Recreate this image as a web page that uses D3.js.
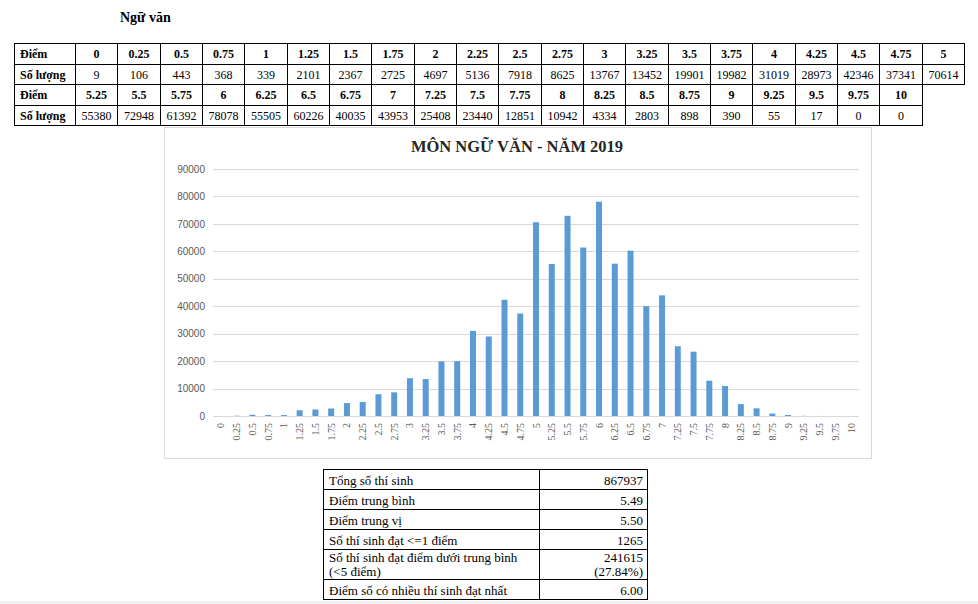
<!DOCTYPE html>
<html>
<head>
<meta charset="utf-8">
<title>Ngữ văn 2019</title>
<script src="https://d3js.org/d3.v7.min.js"></script>
<style>
  body { margin: 0; background: #fff; }
  text { font-family: "Liberation Serif", "Times New Roman", serif; }
  .ylab { font-family: "Liberation Sans", Arial, sans-serif; font-size: 10px; fill: #595959; }
  .xlab { font-size: 10px; fill: #595959; }
</style>
</head>
<body>
<script>
// data
var scores = [0, 0.25, 0.5, 0.75, 1, 1.25, 1.5, 1.75, 2, 2.25, 2.5, 2.75, 3, 3.25, 3.5, 3.75, 4, 4.25, 4.5, 4.75, 5,
              5.25, 5.5, 5.75, 6, 6.25, 6.5, 6.75, 7, 7.25, 7.5, 7.75, 8, 8.25, 8.5, 8.75, 9, 9.25, 9.5, 9.75, 10];
var counts = [9, 106, 443, 368, 339, 2101, 2367, 2725, 4697, 5136, 7918, 8625, 13767, 13452, 19901, 19982, 31019, 28973, 42346, 37341, 70614,
              55380, 72948, 61392, 78078, 55505, 60226, 40035, 43953, 25408, 23440, 12851, 10942, 4334, 2803, 898, 390, 55, 17, 0, 0];
var yTicks = [0, 10000, 20000, 30000, 40000, 50000, 60000, 70000, 80000, 90000];
var pageTitle = "Ngữ văn";
var chartTitle = "MÔN NGỮ VĂN - NĂM 2019";
var summaryLabels = [["Tổng số thí sinh"], ["Điểm trung bình"], ["Điểm trung vị"], ["Số thí sinh đạt <=1 điểm"],
                     ["Số thí sinh đạt điểm dưới trung bình", "(<5 điểm)"], ["Điểm số có nhiều thí sinh đạt nhất"]];
var summaryValues = [["867937"], ["5.49"], ["5.50"], ["1265"], ["241615", "(27.84%)"], ["6.00"]];

var W = 978, H = 604;
var svg = d3.select("body").append("svg").attr("width", W).attr("height", H);

// heading
svg.append("text").attr("x", 120).attr("y", 22)
  .style("font-size", "14px").style("font-weight", "bold").text(pageTitle);

// ---- top table ----
var rowsDef = [
  {label: "Điểm", vals: scores.slice(0, 21), bold: true},
  {label: "Số lượng", vals: counts.slice(0, 21), bold: false},
  {label: "Điểm", vals: scores.slice(21), bold: true},
  {label: "Số lượng", vals: counts.slice(21), bold: false}
];
var rowY = d3.scaleLinear().domain([0, 4]).range([43, 125]);
var colX = d3.scaleLinear().domain([0, 21]).range([75, 964]);
var tbl = svg.append("g").attr("shape-rendering", "crispEdges");

rowsDef.forEach(function (r, ri) {
  var y0 = Math.round(rowY(ri)) + 0.5, y1 = Math.round(rowY(ri + 1)) + 0.5;
  var g = tbl.append("g");
  g.append("rect").attr("x", 14.5).attr("y", y0).attr("width", 75 - 14).attr("height", y1 - y0)
    .attr("fill", "none").attr("stroke", "#000");
  g.append("text").attr("x", 20).attr("y", (y0 + y1) / 2 + 4)
    .style("font-size", "12px").style("font-weight", "bold").text(r.label);
  r.vals.forEach(function (v, i) {
    var x0 = Math.round(colX(i)) + 0.5, x1 = Math.round(colX(i + 1)) + 0.5;
    g.append("rect").attr("x", x0).attr("y", y0).attr("width", x1 - x0).attr("height", y1 - y0)
      .attr("fill", "none").attr("stroke", "#000");
    g.append("text").attr("x", (x0 + x1) / 2).attr("y", (y0 + y1) / 2 + 4)
      .attr("text-anchor", "middle")
      .style("font-size", "12px").style("font-weight", r.bold ? "bold" : "normal")
      .text(String(v));
  });
});

// ---- chart ----
svg.append("rect").attr("x", 164.5).attr("y", 127.5).attr("width", 707).attr("height", 331)
  .attr("fill", "#fff").attr("stroke", "#d9d9d9").attr("shape-rendering", "crispEdges");

svg.append("text").attr("x", 517).attr("y", 152).attr("text-anchor", "middle")
  .style("font-size", "16.5px").style("font-weight", "bold").style("fill", "#262626")
  .text(chartTitle);

var x = d3.scaleBand().domain(scores).range([213, 859]).paddingInner(0.62).paddingOuter(0.31);
var y = d3.scaleLinear().domain([0, 90000]).range([416, 169]);

var grid = svg.append("g").attr("shape-rendering", "crispEdges");
grid.selectAll("line").data(yTicks).enter().append("line")
  .attr("x1", 213).attr("x2", 859)
  .attr("y1", function (d) { return Math.round(y(d)) + 0.5; })
  .attr("y2", function (d) { return Math.round(y(d)) + 0.5; })
  .attr("stroke", "#d9d9d9");

var yAxis = svg.append("g").attr("transform", "translate(205,0)")
  .call(d3.axisLeft(y).tickValues(yTicks).tickSize(0).tickPadding(0).tickFormat(d3.format("d")));
yAxis.select(".domain").remove();
yAxis.selectAll("text").attr("class", "ylab").attr("font-family", null).attr("font-size", null).attr("fill", null);

svg.append("g").selectAll("rect").data(counts).enter().append("rect")
  .attr("x", function (d, i) { return x(scores[i]); })
  .attr("width", x.bandwidth())
  .attr("y", function (d) { return y(d); })
  .attr("height", function (d) { return y(0) - y(d); })
  .attr("fill", "#5b9bd5");

var xAxis = svg.append("g").attr("transform", "translate(0,416)")
  .call(d3.axisBottom(x).tickSize(0).tickPadding(0).tickFormat(function (d) { return String(d); }));
xAxis.select(".domain").remove();
xAxis.selectAll("text").attr("class", "xlab").attr("font-family", null).attr("font-size", null).attr("fill", null)
  .attr("transform", "rotate(-90)")
  .attr("text-anchor", "end")
  .attr("x", -7).attr("y", 0).attr("dy", "0.35em");

// ---- summary table ----
var sx = [323, 539, 647];
var sh = [20, 20, 20, 20, 30, 20];
var sy = [469];
sh.forEach(function (h, i) { sy.push(sy[i] + h); });
var st = svg.append("g");
summaryLabels.forEach(function (lab, i) {
  var y0 = sy[i] + 0.5, y1 = sy[i + 1] + 0.5;
  st.append("rect").attr("x", sx[0] + 0.5).attr("y", y0).attr("width", sx[1] - sx[0]).attr("height", y1 - y0)
    .attr("fill", "none").attr("stroke", "#000").attr("shape-rendering", "crispEdges");
  st.append("rect").attr("x", sx[1] + 0.5).attr("y", y0).attr("width", sx[2] - sx[1]).attr("height", y1 - y0)
    .attr("fill", "none").attr("stroke", "#000").attr("shape-rendering", "crispEdges");
  var base = lab.length > 1 ? y0 + 12 : y0 + 15;
  var t1 = st.append("text").attr("x", sx[0] + 6).attr("y", base).style("font-size", "13px");
  lab.forEach(function (s, k) { t1.append("tspan").attr("x", sx[0] + 6).attr("dy", k ? 14 : 0).text(s); });
  var t2 = st.append("text").attr("x", sx[2] - 4).attr("y", base).attr("text-anchor", "end").style("font-size", "13px");
  summaryValues[i].forEach(function (s, k) { t2.append("tspan").attr("x", sx[2] - 4).attr("dy", k ? 14 : 0).text(s); });
});

svg.append("rect").attr("x", 0).attr("y", 601).attr("width", W).attr("height", 3).attr("fill", "#f0f0f0");
</script>
</body>
</html>
